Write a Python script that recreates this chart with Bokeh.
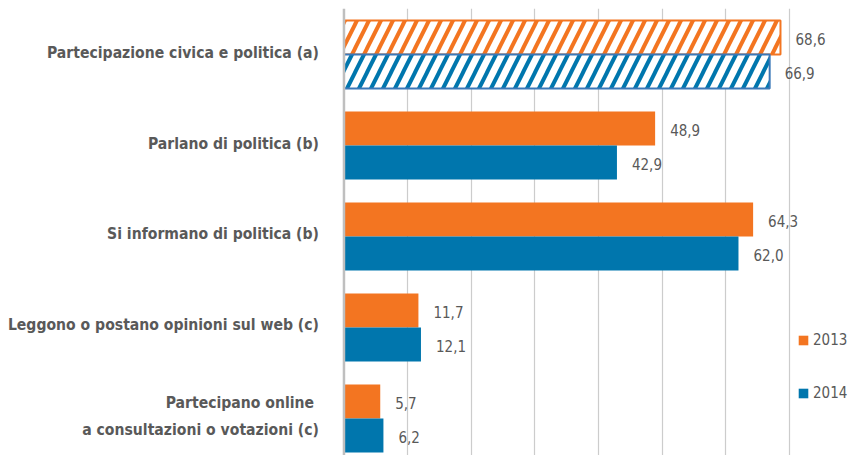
from bokeh.plotting import figure
from bokeh.models import ColumnDataSource, Range1d, Grid, FixedTicker, Span, Legend, LegendItem
from bokeh.core.properties import value
from bokeh.transform import dodge
from bokeh.embed import file_html
from bokeh.resources import INLINE

# ---- data ----
categories = [
    "Partecipazione civica e politica (a)",
    "Parlano di politica (b)",
    "Si informano di politica (b)",
    "Leggono o postano opinioni sul web (c)",
    "Partecipano online \na consultazioni o votazioni (c)",
]
values_2013 = [68.6, 48.9, 64.3, 11.7, 5.7]
values_2014 = [66.9, 42.9, 62.0, 12.1, 6.2]
hatched = [True, False, False, False, False]
x_ticks = [0, 10, 20, 30, 40, 50, 60, 70]
series_labels = ["2013", "2014"]

ORANGE = "#F37521"
BLUE = "#0076AD"
GREY_TXT = "#595959"
FONT = "DejaVu Sans Condensed"

def fmt(v):
    return f"{v:.1f}".replace(".", ",")

pos = list(range(len(categories)))

def make_src(vals, mask):
    idx = [i for i in pos if mask[i]]
    return ColumnDataSource(dict(
        y=[pos[i] for i in idx],
        v=[vals[i] for i in idx],
        lbl=[fmt(vals[i]) for i in idx],
    ))

not_hatched = [not h for h in hatched]
src13_h = make_src(values_2013, hatched)
src14_h = make_src(values_2014, hatched)
src13_s = make_src(values_2013, not_hatched)
src14_s = make_src(values_2014, not_hatched)
src13_all = make_src(values_2013, [True] * len(pos))
src14_all = make_src(values_2014, [True] * len(pos))
cat_src = ColumnDataSource(dict(y=pos, name=categories, x=[0] * len(pos)))

p = figure(width=848, height=455, output_backend="svg", toolbar_location=None,
           x_range=Range1d(-53.98, 79.29), y_range=Range1d(4.4066, -0.5055),
           x_axis_location=None, y_axis_location=None,
           min_border=0, min_border_left=0, min_border_right=0,
           min_border_top=8, min_border_bottom=0)
p.outline_line_color = None
p.xgrid.visible = False
p.ygrid.visible = False

grid = Grid(dimension=0, ticker=FixedTicker(ticks=x_ticks[1:]),
            grid_line_color="#cccccc", grid_line_width=1.2)
p.add_layout(grid)
p.add_layout(Span(location=x_ticks[0], dimension="height",
                  line_color="#bfbfbf", line_width=2.5))

H = 0.3736
OFF = 0.1868

# hatched bars
p.hbar(y=dodge("y", -OFF, range=p.y_range), right="v", left=0, height=H, source=src13_h,
       fill_color="white", hatch_pattern="/", hatch_color=ORANGE, hatch_scale=24,
       hatch_weight=4, line_color=ORANGE, line_width=2)
p.hbar(y=dodge("y", OFF, range=p.y_range), right="v", left=0, height=H, source=src14_h,
       fill_color="white", hatch_pattern="/", hatch_color=BLUE, hatch_scale=24,
       hatch_weight=4, line_color="#3B78B8", line_width=2)

# solid bars
r13 = p.hbar(y=dodge("y", -OFF, range=p.y_range), right="v", left=0, height=H, source=src13_s,
             fill_color=ORANGE, line_color=None)
r14 = p.hbar(y=dodge("y", OFF, range=p.y_range), right="v", left=0, height=H, source=src14_s,
             fill_color=BLUE, line_color=None)

# value labels
for src, off in ((src13_all, -OFF), (src14_all, OFF)):
    p.text(x="v", y=dodge("y", off + 0.02, range=p.y_range), text="lbl", source=src,
           x_offset=15, text_align="left", text_baseline="middle",
           text_font=value(FONT), text_font_size="15px", text_color=GREY_TXT)

# category labels
p.text(x="x", y="y", text="name", source=cat_src, x_offset=-25, y_offset=-2,
       text_align="right", text_baseline="middle", text_line_height=1.45,
       text_font=value(FONT), text_font_style="bold", text_font_size="15.6px",
       text_color=GREY_TXT)

legend = Legend(items=[LegendItem(label=series_labels[0], renderers=[r13]),
                       LegendItem(label=series_labels[1], renderers=[r14])],
                location=(797, 52), orientation="vertical",
                border_line_color=None, background_fill_alpha=0,
                padding=0, margin=0, spacing=33, label_height=20,
                glyph_width=12, glyph_height=12, label_standoff=4,
                label_text_font=FONT, label_text_font_size="15px",
                label_text_color=GREY_TXT)
p.add_layout(legend)

open("out.html", "w").write(file_html(p, INLINE))
